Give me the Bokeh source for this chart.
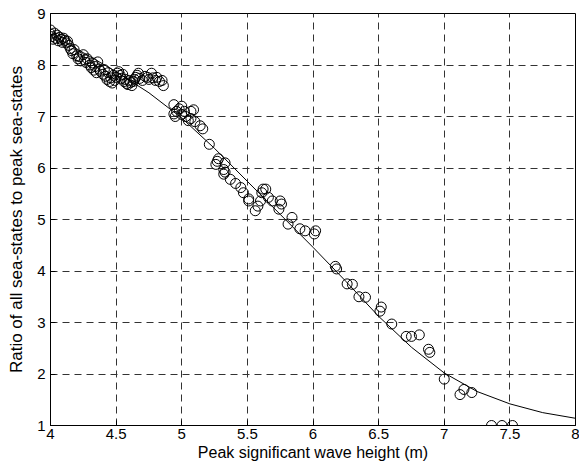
from bokeh.plotting import figure
from bokeh.models import Range1d, FixedTicker, NumeralTickFormatter
from bokeh.embed import file_html
from bokeh.resources import INLINE

# Observed sea-state ratio points
wave_height = [
    4.00, 4.00, 4.01, 4.02, 4.03, 4.04, 4.05, 4.06, 4.07, 4.08, 4.09, 4.10, 4.11, 4.12, 4.13,
    4.14, 4.15, 4.16, 4.17, 4.18, 4.20, 4.21, 4.22, 4.23, 4.25, 4.26, 4.27, 4.28, 4.30, 4.31,
    4.32, 4.33, 4.34, 4.35, 4.36, 4.37, 4.38, 4.40, 4.41, 4.42, 4.43, 4.44, 4.45, 4.46, 4.47,
    4.48, 4.49, 4.50, 4.51, 4.52, 4.53, 4.54, 4.55, 4.56, 4.57, 4.58, 4.59, 4.60, 4.61, 4.62,
    4.63, 4.64, 4.65, 4.66, 4.67, 4.68, 4.70, 4.72, 4.74, 4.75, 4.77, 4.78, 4.80, 4.81, 4.83,
    4.85, 4.86,
    4.94, 4.94, 4.95, 4.96, 4.98, 5.00, 5.00, 5.02, 5.03, 5.05, 5.07, 5.07, 5.09, 5.10, 5.14,
    5.16, 5.21,
    5.26, 5.27, 5.28, 5.32, 5.32, 5.33, 5.33, 5.37, 5.41, 5.45, 5.47, 5.51, 5.51, 5.56, 5.58,
    5.60, 5.61, 5.62, 5.64, 5.66, 5.69, 5.74, 5.75, 5.76, 5.81, 5.84, 5.90, 5.94, 6.01, 6.02,
    6.17, 6.18, 6.26, 6.30, 6.35, 6.40, 6.52, 6.51, 6.60, 6.71, 6.75, 6.81, 6.88, 6.89, 7.00,
    7.12, 7.15, 7.21, 7.36, 7.44, 7.52,
]
ratio = [
    8.68, 8.60, 8.55, 8.50, 8.62, 8.52, 8.58, 8.47, 8.54, 8.50, 8.44, 8.52, 8.48, 8.43, 8.46,
    8.38, 8.32, 8.28, 8.22, 8.30, 8.18, 8.12, 8.16, 8.08, 8.20, 8.10, 8.05, 8.12, 8.00, 7.95,
    8.04, 7.90, 7.97, 7.85, 8.06, 7.92, 7.88, 7.82, 7.91, 7.78, 7.72, 7.85, 7.68, 7.75, 7.65,
    7.80, 7.70, 7.76, 7.84, 7.87, 7.80, 7.74, 7.82, 7.68, 7.72, 7.64, 7.62, 7.70, 7.66, 7.60,
    7.68, 7.72, 7.76, 7.80, 7.84, 7.74, 7.70, 7.78, 7.76, 7.72, 7.84, 7.75, 7.70, 7.76, 7.68,
    7.70, 7.60,
    7.23, 7.05, 7.00, 7.10, 7.15, 7.20, 7.04, 7.10, 7.00, 6.92, 7.10, 6.96, 7.13, 6.90, 6.82,
    6.76, 6.46,
    6.07, 6.13, 6.18, 5.97, 5.88, 6.10, 5.92, 5.78, 5.70, 5.62, 5.52, 5.40, 5.36, 5.17, 5.26,
    5.36, 5.52, 5.59, 5.59, 5.43, 5.36, 5.20, 5.36, 5.30, 4.91, 5.04, 4.82, 4.78, 4.72, 4.78,
    4.09, 4.04, 3.75, 3.74, 3.50, 3.49, 3.30, 3.22, 2.97, 2.73, 2.73, 2.76, 2.48, 2.42, 1.90,
    1.60, 1.70, 1.64, 1.00, 1.00, 1.00,
]

# Fitted curve
fit_x = [4.0, 4.25, 4.5, 4.75, 5.0, 5.25, 5.5, 5.75, 6.0, 6.25, 6.5, 6.75, 7.0, 7.25, 7.5, 7.75, 8.0]
fit_y = [8.60, 8.24, 7.87, 7.46, 6.97, 6.38, 5.74, 5.10, 4.46, 3.80, 3.12, 2.52, 2.02, 1.66, 1.42, 1.25, 1.14]

x_ticks = [4, 4.5, 5, 5.5, 6, 6.5, 7, 7.5, 8]
y_ticks = [1, 2, 3, 4, 5, 6, 7, 8, 9]

FONT = "Liberation Sans"

p = figure(width=579, height=463, output_backend="svg", toolbar_location=None,
           x_range=Range1d(4, 8), y_range=Range1d(1, 9),
           min_border_left=50, min_border_right=4, min_border_top=13, min_border_bottom=36)
p.background_fill_color = "white"
p.border_fill_color = "white"
p.outline_line_color = "black"
p.outline_line_width = 1

p.line(fit_x, fit_y, line_color="black", line_width=1)
p.scatter(wave_height, ratio, marker="circle", size=10, fill_color=None,
          line_color="black", line_width=1)

for ax in (p.xaxis[0], p.yaxis[0]):
    ax.major_tick_in = 5
    ax.major_tick_out = 0
    ax.minor_tick_line_color = None
    ax.axis_line_color = "black"
    ax.major_tick_line_color = "black"
    ax.major_label_text_font = FONT
    ax.major_label_text_font_size = "15px"
    ax.major_label_text_color = "black"
    ax.axis_label_text_font = FONT
    ax.axis_label_text_font_style = "normal"
    ax.axis_label_text_color = "black"
    ax.formatter = NumeralTickFormatter(format="0.[0]")

p.xaxis.axis_label_text_font_size = "16px"
p.yaxis.axis_label_text_font_size = "17px"
p.xaxis.ticker = FixedTicker(ticks=x_ticks)
p.yaxis.ticker = FixedTicker(ticks=y_ticks)
p.xaxis.axis_label = "Peak significant wave height (m)"
p.yaxis.axis_label = "Ratio of all sea-states to peak sea-states"
p.xaxis.major_label_standoff = 3
p.yaxis.major_label_standoff = 5
p.xaxis.axis_label_standoff = 2
p.yaxis.axis_label_standoff = 8

for g in (p.xgrid[0], p.ygrid[0]):
    g.grid_line_color = "#333333"
    g.grid_line_dash = "7 5"
    g.grid_line_width = 1

open("out.html", "w").write(file_html(p, INLINE))
